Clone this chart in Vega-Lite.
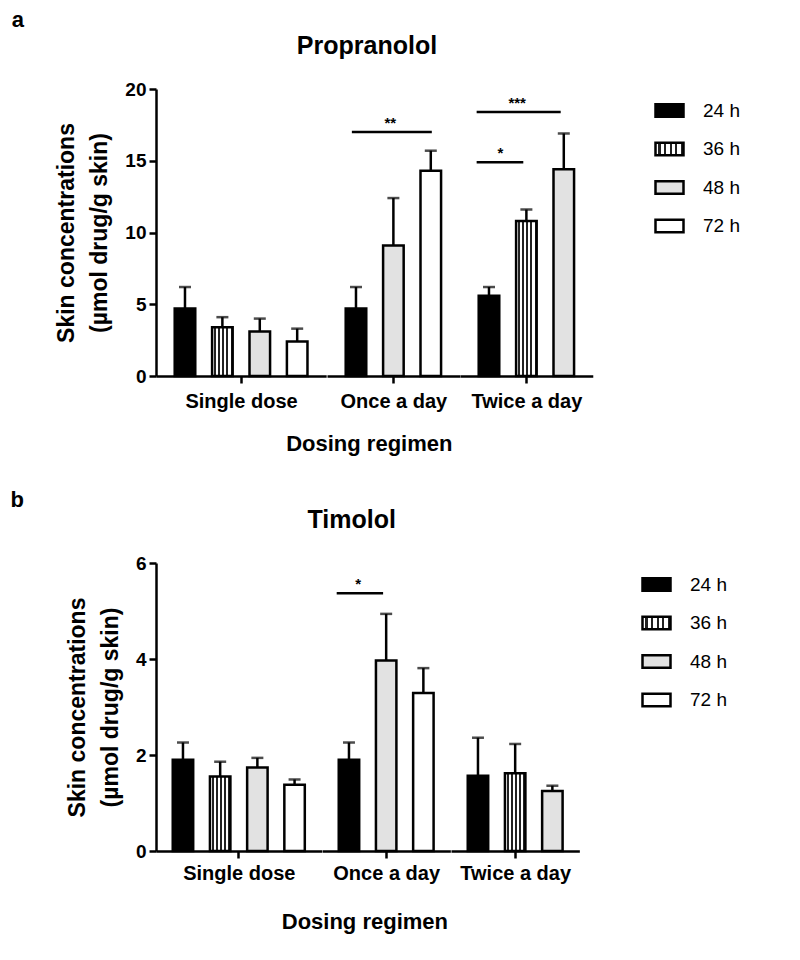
{
  "$schema": "https://vega.github.io/schema/vega-lite/v6.json",
  "background": "white",
  "padding": {"left": 10, "top": 9, "right": 5, "bottom": 5},
  "datasets": {
    "propranolol": [
      {"regimen": "Single dose", "time": "24 h", "mean": 4.7, "upper": 6.2},
      {"regimen": "Single dose", "time": "36 h", "mean": 3.4, "upper": 4.1},
      {"regimen": "Single dose", "time": "48 h", "mean": 3.1, "upper": 4.0},
      {"regimen": "Single dose", "time": "72 h", "mean": 2.4, "upper": 3.3},
      {"regimen": "Once a day", "time": "24 h", "mean": 4.7, "upper": 6.2},
      {"regimen": "Once a day", "time": "48 h", "mean": 9.1, "upper": 12.4},
      {"regimen": "Once a day", "time": "72 h", "mean": 14.3, "upper": 15.7},
      {"regimen": "Twice a day", "time": "24 h", "mean": 5.6, "upper": 6.2},
      {"regimen": "Twice a day", "time": "36 h", "mean": 10.8, "upper": 11.6},
      {"regimen": "Twice a day", "time": "48 h", "mean": 14.4, "upper": 16.9},
      {"regimen": "Once a day", "from": "24 h", "to": "72 h", "mid": "48 h", "level": 17.0, "label": "**"},
      {"regimen": "Twice a day", "from": "24 h", "to": "48 h", "mid": "36 h", "level": 18.4, "label": "***"},
      {"regimen": "Twice a day", "from": "24 h", "to": "36 h", "mid": "24 h", "level": 14.9, "label": "*"}
    ],
    "timolol": [
      {"regimen": "Single dose", "time": "24 h", "mean": 1.9, "upper": 2.26},
      {"regimen": "Single dose", "time": "36 h", "mean": 1.55, "upper": 1.86},
      {"regimen": "Single dose", "time": "48 h", "mean": 1.74, "upper": 1.94},
      {"regimen": "Single dose", "time": "72 h", "mean": 1.38, "upper": 1.49},
      {"regimen": "Once a day", "time": "24 h", "mean": 1.9, "upper": 2.26},
      {"regimen": "Once a day", "time": "48 h", "mean": 3.97, "upper": 4.94},
      {"regimen": "Once a day", "time": "72 h", "mean": 3.29, "upper": 3.81},
      {"regimen": "Twice a day", "time": "24 h", "mean": 1.57, "upper": 2.36},
      {"regimen": "Twice a day", "time": "36 h", "mean": 1.62, "upper": 2.23},
      {"regimen": "Twice a day", "time": "48 h", "mean": 1.25, "upper": 1.36},
      {"regimen": "Once a day", "from": "24 h", "to": "48 h", "mid": "24 h", "level": 5.37, "label": "*"}
    ]
  },
  "spacing": 33,
  "align": "none",
  "resolve": {"scale": {"fill": "independent"}, "legend": {"fill": "independent"}},
  "vconcat": [
    {
      "title": {"text": "a", "anchor": "start", "frame": "bounds", "dx": -44, "fontSize": 22, "fontWeight": "bold", "offset": 2},
      "vconcat": [
        {
          "title": {"text": "Propranolol", "fontSize": 25, "fontWeight": "bold", "anchor": "start", "frame": "bounds", "dx": 241, "offset": 21},
          "vconcat": [
            {
              "data": {"name": "propranolol"},
              "title": {"text": "Dosing regimen", "orient": "bottom", "anchor": "middle", "dx": 45, "fontSize": 22, "fontWeight": "bold", "offset": 23},
              "spacing": 0,
              "hconcat": [
                {
                  "transform": [{"filter": "datum.regimen === 'Single dose'"}],
                  "width": {"step": 37.4}, "height": 287,
                  "layer": [
                    {"transform": [{"filter": "isValid(datum.mean)"}],
                     "mark": {"type": "bar", "stroke": "black", "strokeWidth": 2.5},
                     "encoding": {
                       "x": {"field": "time", "type": "nominal", "scale": {"paddingInner": 0.45, "paddingOuter": 0.5}, "axis": {"title": "Single dose", "labels": false, "values": ["36 h"], "bandPosition": 1.41, "titleFontSize": 20, "titleFontWeight": "bold", "titlePadding": 7}},
                       "y": {"field": "mean", "type": "quantitative", "scale": {"domain": [0, 20], "nice": false},
                             "axis": {"values": [0, 5, 10, 15, 20], "title": ["Skin concentrations", "(µmol drug/g skin)"], "titleFontSize": 23, "titleFontWeight": "bold", "titleLineHeight": 33, "titlePadding": 13, "labelFontSize": 19, "labelFontWeight": "bold", "labelPadding": 3}},
                       "fill": {"field": "time", "type": "nominal", "legend": {"title": null},
                                "scale": {"domain": ["24 h", "36 h", "48 h", "72 h"], "range": ["black", {"expr": "{gradient: 'linear', x1: 0, y1: 0, x2: 1, y2: 0, stops: [{offset: 0, color: 'white'}, {offset: 0.1, color: 'white'}, {offset: 0.1, color: '#222222'}, {offset: 0.18, color: '#222222'}, {offset: 0.18, color: 'white'}, {offset: 0.3, color: 'white'}, {offset: 0.3, color: '#222222'}, {offset: 0.38, color: '#222222'}, {offset: 0.38, color: 'white'}, {offset: 0.5, color: 'white'}, {offset: 0.5, color: '#222222'}, {offset: 0.58, color: '#222222'}, {offset: 0.58, color: 'white'}, {offset: 0.7, color: 'white'}, {offset: 0.7, color: '#222222'}, {offset: 0.78, color: '#222222'}, {offset: 0.78, color: 'white'}, {offset: 0.9, color: 'white'}, {offset: 0.9, color: '#222222'}, {offset: 0.98, color: '#222222'}, {offset: 0.98, color: 'white'}, {offset: 1, color: 'white'}]}"}, "#e2e2e2", "white"]}}
                     }},
                    {"transform": [{"filter": "isValid(datum.mean)"}],
                     "mark": {"type": "rule", "color": "black", "strokeWidth": 2.5},
                     "encoding": {"x": {"field": "time", "type": "nominal"}, "y": {"field": "mean", "type": "quantitative"}, "y2": {"field": "upper"}}},
                    {"transform": [{"filter": "isValid(datum.mean)"}],
                     "mark": {"type": "tick", "color": "black", "size": 12, "thickness": 2.5, "orient": "horizontal"},
                     "encoding": {"x": {"field": "time", "type": "nominal"}, "y": {"field": "upper", "type": "quantitative"}}}
                  ]
                },
                {
                  "transform": [{"filter": "datum.regimen === 'Once a day'"}],
                  "width": {"step": 37.4}, "height": 287,
                  "layer": [
                    {"transform": [{"filter": "isValid(datum.mean)"}],
                     "mark": {"type": "bar", "stroke": "black", "strokeWidth": 2.5},
                     "encoding": {
                       "x": {"field": "time", "type": "nominal", "scale": {"paddingInner": 0.45, "paddingOuter": 0.5}, "axis": {"title": "Once a day", "labels": false, "values": ["48 h"], "titleFontSize": 20, "titleFontWeight": "bold", "titlePadding": 7}},
                       "y": {"field": "mean", "type": "quantitative", "scale": {"domain": [0, 20], "nice": false}, "axis": null},
                       "fill": {"field": "time", "type": "nominal", "legend": {"title": null},
                                "scale": {"domain": ["24 h", "36 h", "48 h", "72 h"], "range": ["black", {"expr": "{gradient: 'linear', x1: 0, y1: 0, x2: 1, y2: 0, stops: [{offset: 0, color: 'white'}, {offset: 0.1, color: 'white'}, {offset: 0.1, color: '#222222'}, {offset: 0.18, color: '#222222'}, {offset: 0.18, color: 'white'}, {offset: 0.3, color: 'white'}, {offset: 0.3, color: '#222222'}, {offset: 0.38, color: '#222222'}, {offset: 0.38, color: 'white'}, {offset: 0.5, color: 'white'}, {offset: 0.5, color: '#222222'}, {offset: 0.58, color: '#222222'}, {offset: 0.58, color: 'white'}, {offset: 0.7, color: 'white'}, {offset: 0.7, color: '#222222'}, {offset: 0.78, color: '#222222'}, {offset: 0.78, color: 'white'}, {offset: 0.9, color: 'white'}, {offset: 0.9, color: '#222222'}, {offset: 0.98, color: '#222222'}, {offset: 0.98, color: 'white'}, {offset: 1, color: 'white'}]}"}, "#e2e2e2", "white"]}}
                     }},
                    {"transform": [{"filter": "isValid(datum.mean)"}],
                     "mark": {"type": "rule", "color": "black", "strokeWidth": 2.5},
                     "encoding": {"x": {"field": "time", "type": "nominal"}, "y": {"field": "mean", "type": "quantitative", "axis": null}, "y2": {"field": "upper"}}},
                    {"transform": [{"filter": "isValid(datum.mean)"}],
                     "mark": {"type": "tick", "color": "black", "size": 12, "thickness": 2.5, "orient": "horizontal"},
                     "encoding": {"x": {"field": "time", "type": "nominal"}, "y": {"field": "upper", "type": "quantitative", "axis": null}}},
                    {"transform": [{"filter": "isValid(datum.level)"}],
                     "mark": {"type": "rule", "color": "black", "strokeWidth": 2.5},
                     "encoding": {"x": {"field": "from", "type": "nominal", "bandPosition": 0.3}, "x2": {"field": "to", "bandPosition": 0.55}, "y": {"field": "level", "type": "quantitative", "axis": null}}},
                    {"transform": [{"filter": "isValid(datum.level)"}],
                     "mark": {"type": "text", "color": "black", "fontSize": 15, "fontWeight": "bold", "baseline": "bottom", "dy": -1},
                     "encoding": {"x": {"field": "mid", "type": "nominal", "bandPosition": 0.35}, "y": {"field": "level", "type": "quantitative", "axis": null}, "text": {"field": "label"}}}
                  ]
                },
                {
                  "transform": [{"filter": "datum.regimen === 'Twice a day'"}],
                  "width": {"step": 37.4}, "height": 287,
                  "layer": [
                    {"transform": [{"filter": "isValid(datum.mean)"}],
                     "mark": {"type": "bar", "stroke": "black", "strokeWidth": 2.5},
                     "encoding": {
                       "x": {"field": "time", "type": "nominal", "scale": {"paddingInner": 0.45, "paddingOuter": 0.5}, "axis": {"title": "Twice a day", "labels": false, "values": ["36 h"], "titleFontSize": 20, "titleFontWeight": "bold", "titlePadding": 7}},
                       "y": {"field": "mean", "type": "quantitative", "scale": {"domain": [0, 20], "nice": false}, "axis": null},
                       "fill": {"field": "time", "type": "nominal", "legend": {"title": null},
                                "scale": {"domain": ["24 h", "36 h", "48 h", "72 h"], "range": ["black", {"expr": "{gradient: 'linear', x1: 0, y1: 0, x2: 1, y2: 0, stops: [{offset: 0, color: 'white'}, {offset: 0.1, color: 'white'}, {offset: 0.1, color: '#222222'}, {offset: 0.18, color: '#222222'}, {offset: 0.18, color: 'white'}, {offset: 0.3, color: 'white'}, {offset: 0.3, color: '#222222'}, {offset: 0.38, color: '#222222'}, {offset: 0.38, color: 'white'}, {offset: 0.5, color: 'white'}, {offset: 0.5, color: '#222222'}, {offset: 0.58, color: '#222222'}, {offset: 0.58, color: 'white'}, {offset: 0.7, color: 'white'}, {offset: 0.7, color: '#222222'}, {offset: 0.78, color: '#222222'}, {offset: 0.78, color: 'white'}, {offset: 0.9, color: 'white'}, {offset: 0.9, color: '#222222'}, {offset: 0.98, color: '#222222'}, {offset: 0.98, color: 'white'}, {offset: 1, color: 'white'}]}"}, "#e2e2e2", "white"]}}
                     }},
                    {"transform": [{"filter": "isValid(datum.mean)"}],
                     "mark": {"type": "rule", "color": "black", "strokeWidth": 2.5},
                     "encoding": {"x": {"field": "time", "type": "nominal"}, "y": {"field": "mean", "type": "quantitative", "axis": null}, "y2": {"field": "upper"}}},
                    {"transform": [{"filter": "isValid(datum.mean)"}],
                     "mark": {"type": "tick", "color": "black", "size": 12, "thickness": 2.5, "orient": "horizontal"},
                     "encoding": {"x": {"field": "time", "type": "nominal"}, "y": {"field": "upper", "type": "quantitative", "axis": null}}},
                    {"transform": [{"filter": "isValid(datum.level)"}],
                     "mark": {"type": "rule", "color": "black", "strokeWidth": 2.5},
                     "encoding": {"x": {"field": "from", "type": "nominal", "bandPosition": -0.1}, "x2": {"field": "to", "bandPosition": 0.35}, "y": {"field": "level", "type": "quantitative", "axis": null}}},
                    {"transform": [{"filter": "datum.label === '***'"}],
                     "mark": {"type": "text", "color": "black", "fontSize": 15, "fontWeight": "bold", "baseline": "bottom", "dy": -1},
                     "encoding": {"x": {"field": "mid", "type": "nominal", "bandPosition": 0.05}, "y": {"field": "level", "type": "quantitative", "axis": null}, "text": {"field": "label"}}},
                    {"transform": [{"filter": "datum.label === '*'"}],
                     "mark": {"type": "text", "color": "black", "fontSize": 15, "fontWeight": "bold", "baseline": "bottom", "dy": -1},
                     "encoding": {"x": {"field": "mid", "type": "nominal", "bandPosition": 1.05}, "y": {"field": "level", "type": "quantitative", "axis": null}, "text": {"field": "label"}}}
                  ]
                }
              ]
            }
          ]
        }
      ]
    },
    {
      "title": {"text": "b", "anchor": "start", "frame": "bounds", "dx": -56, "dy": 6, "fontSize": 22, "fontWeight": "bold", "offset": 2},
      "vconcat": [
        {
          "title": {"text": "Timolol", "fontSize": 25, "fontWeight": "bold", "anchor": "start", "frame": "bounds", "dx": 241, "offset": 21},
          "vconcat": [
            {
              "data": {"name": "timolol"},
              "title": {"text": "Dosing regimen", "orient": "bottom", "anchor": "middle", "dx": 42, "fontSize": 22, "fontWeight": "bold", "offset": 29},
              "spacing": 0,
              "hconcat": [
                {
                  "transform": [{"filter": "datum.regimen === 'Single dose'"}],
                  "width": {"step": 37.2}, "height": 288,
                  "layer": [
                    {"transform": [{"filter": "isValid(datum.mean)"}],
                     "mark": {"type": "bar", "stroke": "black", "strokeWidth": 2.5},
                     "encoding": {
                       "x": {"field": "time", "type": "nominal", "scale": {"paddingInner": 0.45, "paddingOuter": 0.45}, "axis": {"title": "Single dose", "labels": false, "values": ["36 h"], "bandPosition": 1.41, "titleFontSize": 20, "titleFontWeight": "bold", "titlePadding": 4}},
                       "y": {"field": "mean", "type": "quantitative", "scale": {"domain": [0, 6], "nice": false},
                             "axis": {"values": [0, 2, 4, 6], "title": ["Skin concentrations", "(µmol drug/g skin)"], "titleFontSize": 23, "titleFontWeight": "bold", "titleLineHeight": 33, "titlePadding": 13, "labelFontSize": 19, "labelFontWeight": "bold", "labelPadding": 3}},
                       "fill": {"field": "time", "type": "nominal", "legend": {"title": null},
                                "scale": {"domain": ["24 h", "36 h", "48 h", "72 h"], "range": ["black", {"expr": "{gradient: 'linear', x1: 0, y1: 0, x2: 1, y2: 0, stops: [{offset: 0, color: 'white'}, {offset: 0.1, color: 'white'}, {offset: 0.1, color: '#222222'}, {offset: 0.18, color: '#222222'}, {offset: 0.18, color: 'white'}, {offset: 0.3, color: 'white'}, {offset: 0.3, color: '#222222'}, {offset: 0.38, color: '#222222'}, {offset: 0.38, color: 'white'}, {offset: 0.5, color: 'white'}, {offset: 0.5, color: '#222222'}, {offset: 0.58, color: '#222222'}, {offset: 0.58, color: 'white'}, {offset: 0.7, color: 'white'}, {offset: 0.7, color: '#222222'}, {offset: 0.78, color: '#222222'}, {offset: 0.78, color: 'white'}, {offset: 0.9, color: 'white'}, {offset: 0.9, color: '#222222'}, {offset: 0.98, color: '#222222'}, {offset: 0.98, color: 'white'}, {offset: 1, color: 'white'}]}"}, "#e2e2e2", "white"]}}
                     }},
                    {"transform": [{"filter": "isValid(datum.mean)"}],
                     "mark": {"type": "rule", "color": "black", "strokeWidth": 2.5},
                     "encoding": {"x": {"field": "time", "type": "nominal"}, "y": {"field": "mean", "type": "quantitative"}, "y2": {"field": "upper"}}},
                    {"transform": [{"filter": "isValid(datum.mean)"}],
                     "mark": {"type": "tick", "color": "black", "size": 12, "thickness": 2.5, "orient": "horizontal"},
                     "encoding": {"x": {"field": "time", "type": "nominal"}, "y": {"field": "upper", "type": "quantitative"}}}
                  ]
                },
                {
                  "transform": [{"filter": "datum.regimen === 'Once a day'"}],
                  "width": {"step": 37.2}, "height": 288,
                  "layer": [
                    {"transform": [{"filter": "isValid(datum.mean)"}],
                     "mark": {"type": "bar", "stroke": "black", "strokeWidth": 2.5},
                     "encoding": {
                       "x": {"field": "time", "type": "nominal", "scale": {"paddingInner": 0.45, "paddingOuter": 0.45}, "axis": {"title": "Once a day", "labels": false, "values": ["48 h"], "titleFontSize": 20, "titleFontWeight": "bold", "titlePadding": 4}},
                       "y": {"field": "mean", "type": "quantitative", "scale": {"domain": [0, 6], "nice": false}, "axis": null},
                       "fill": {"field": "time", "type": "nominal", "legend": {"title": null},
                                "scale": {"domain": ["24 h", "36 h", "48 h", "72 h"], "range": ["black", {"expr": "{gradient: 'linear', x1: 0, y1: 0, x2: 1, y2: 0, stops: [{offset: 0, color: 'white'}, {offset: 0.1, color: 'white'}, {offset: 0.1, color: '#222222'}, {offset: 0.18, color: '#222222'}, {offset: 0.18, color: 'white'}, {offset: 0.3, color: 'white'}, {offset: 0.3, color: '#222222'}, {offset: 0.38, color: '#222222'}, {offset: 0.38, color: 'white'}, {offset: 0.5, color: 'white'}, {offset: 0.5, color: '#222222'}, {offset: 0.58, color: '#222222'}, {offset: 0.58, color: 'white'}, {offset: 0.7, color: 'white'}, {offset: 0.7, color: '#222222'}, {offset: 0.78, color: '#222222'}, {offset: 0.78, color: 'white'}, {offset: 0.9, color: 'white'}, {offset: 0.9, color: '#222222'}, {offset: 0.98, color: '#222222'}, {offset: 0.98, color: 'white'}, {offset: 1, color: 'white'}]}"}, "#e2e2e2", "white"]}}
                     }},
                    {"transform": [{"filter": "isValid(datum.mean)"}],
                     "mark": {"type": "rule", "color": "black", "strokeWidth": 2.5},
                     "encoding": {"x": {"field": "time", "type": "nominal"}, "y": {"field": "mean", "type": "quantitative", "axis": null}, "y2": {"field": "upper"}}},
                    {"transform": [{"filter": "isValid(datum.mean)"}],
                     "mark": {"type": "tick", "color": "black", "size": 12, "thickness": 2.5, "orient": "horizontal"},
                     "encoding": {"x": {"field": "time", "type": "nominal"}, "y": {"field": "upper", "type": "quantitative", "axis": null}}},
                    {"transform": [{"filter": "isValid(datum.level)"}],
                     "mark": {"type": "rule", "color": "black", "strokeWidth": 2.5},
                     "encoding": {"x": {"field": "from", "type": "nominal", "bandPosition": -0.1}, "x2": {"field": "to", "bandPosition": 0.35}, "y": {"field": "level", "type": "quantitative", "axis": null}}},
                    {"transform": [{"filter": "isValid(datum.level)"}],
                     "mark": {"type": "text", "color": "black", "fontSize": 15, "fontWeight": "bold", "baseline": "bottom", "dy": -1},
                     "encoding": {"x": {"field": "mid", "type": "nominal", "bandPosition": 0.95}, "y": {"field": "level", "type": "quantitative", "axis": null}, "text": {"field": "label"}}}
                  ]
                },
                {
                  "transform": [{"filter": "datum.regimen === 'Twice a day'"}],
                  "width": {"step": 37.2}, "height": 288,
                  "layer": [
                    {"transform": [{"filter": "isValid(datum.mean)"}],
                     "mark": {"type": "bar", "stroke": "black", "strokeWidth": 2.5},
                     "encoding": {
                       "x": {"field": "time", "type": "nominal", "scale": {"paddingInner": 0.45, "paddingOuter": 0.45}, "axis": {"title": "Twice a day", "labels": false, "values": ["36 h"], "titleFontSize": 20, "titleFontWeight": "bold", "titlePadding": 4}},
                       "y": {"field": "mean", "type": "quantitative", "scale": {"domain": [0, 6], "nice": false}, "axis": null},
                       "fill": {"field": "time", "type": "nominal", "legend": {"title": null},
                                "scale": {"domain": ["24 h", "36 h", "48 h", "72 h"], "range": ["black", {"expr": "{gradient: 'linear', x1: 0, y1: 0, x2: 1, y2: 0, stops: [{offset: 0, color: 'white'}, {offset: 0.1, color: 'white'}, {offset: 0.1, color: '#222222'}, {offset: 0.18, color: '#222222'}, {offset: 0.18, color: 'white'}, {offset: 0.3, color: 'white'}, {offset: 0.3, color: '#222222'}, {offset: 0.38, color: '#222222'}, {offset: 0.38, color: 'white'}, {offset: 0.5, color: 'white'}, {offset: 0.5, color: '#222222'}, {offset: 0.58, color: '#222222'}, {offset: 0.58, color: 'white'}, {offset: 0.7, color: 'white'}, {offset: 0.7, color: '#222222'}, {offset: 0.78, color: '#222222'}, {offset: 0.78, color: 'white'}, {offset: 0.9, color: 'white'}, {offset: 0.9, color: '#222222'}, {offset: 0.98, color: '#222222'}, {offset: 0.98, color: 'white'}, {offset: 1, color: 'white'}]}"}, "#e2e2e2", "white"]}}
                     }},
                    {"transform": [{"filter": "isValid(datum.mean)"}],
                     "mark": {"type": "rule", "color": "black", "strokeWidth": 2.5},
                     "encoding": {"x": {"field": "time", "type": "nominal"}, "y": {"field": "mean", "type": "quantitative", "axis": null}, "y2": {"field": "upper"}}},
                    {"transform": [{"filter": "isValid(datum.mean)"}],
                     "mark": {"type": "tick", "color": "black", "size": 12, "thickness": 2.5, "orient": "horizontal"},
                     "encoding": {"x": {"field": "time", "type": "nominal"}, "y": {"field": "upper", "type": "quantitative", "axis": null}}}
                  ]
                }
              ]
            }
          ]
        }
      ]
    }
  ],
  "config": {
    "font": "Liberation Sans",
    "view": {"stroke": null},
    "axis": {"domainColor": "black", "domainWidth": 2.5, "tickColor": "black", "tickWidth": 2.5, "tickSize": 7, "labelColor": "black", "titleColor": "black", "grid": false, "labelFont": "Liberation Sans", "titleFont": "Liberation Sans"},
    "title": {"font": "Liberation Sans", "color": "black"},
    "legend": {"orient": "right", "offset": 55, "padding": 6, "symbolType": "M-1,-0.45H1V0.45H-1Z", "symbolSize": 784, "symbolStrokeColor": "black", "symbolStrokeWidth": 2.5, "labelFontSize": 19, "labelOffset": 18, "rowPadding": 11.5, "labelFont": "Liberation Sans", "labelColor": "black"}
  }
}
